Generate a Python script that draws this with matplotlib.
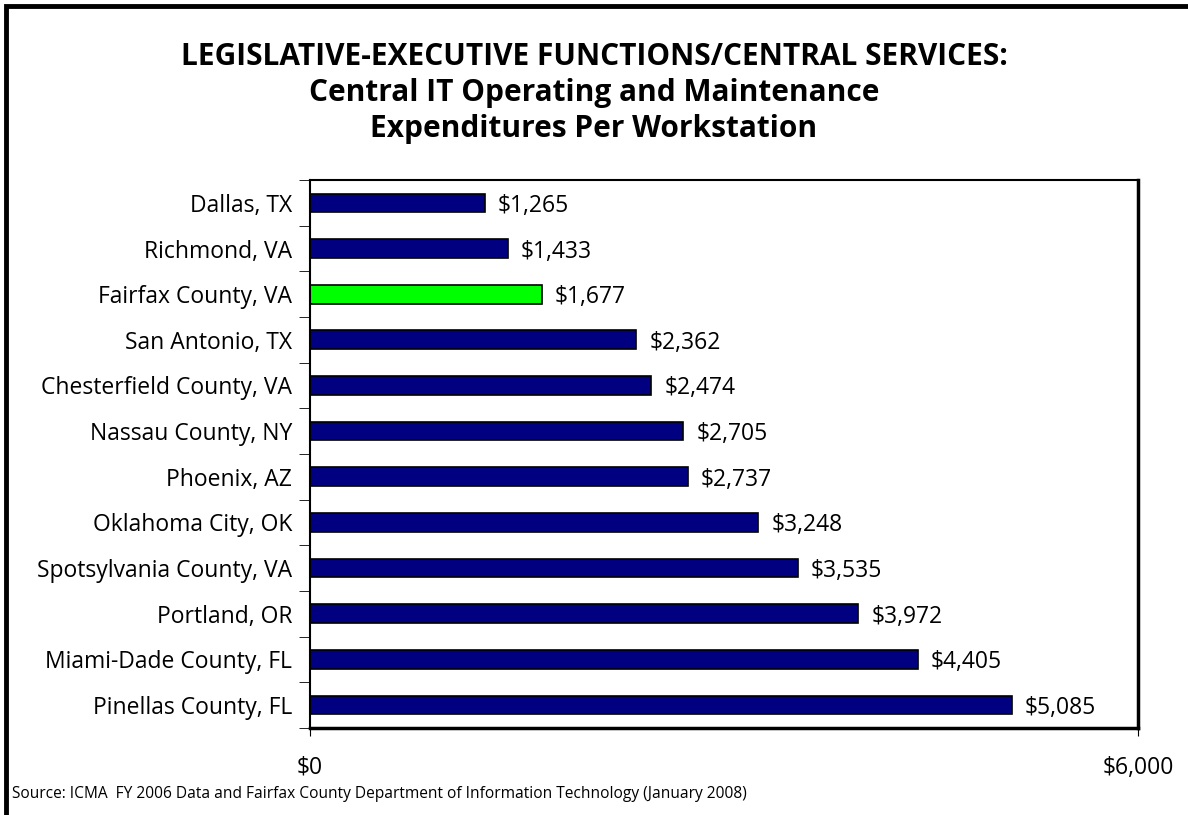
import matplotlib.pyplot as plt
import numpy as np
from matplotlib.patches import Rectangle

cities = ["Dallas, TX", "Richmond, VA", "Fairfax County, VA", "San Antonio, TX",
          "Chesterfield County, VA", "Nassau County, NY", "Phoenix, AZ",
          "Oklahoma City, OK", "Spotsylvania County, VA", "Portland, OR",
          "Miami-Dade County, FL", "Pinellas County, FL"]
costs = [1265, 1433, 1677, 2362, 2474, 2705, 2737, 3248, 3535, 3972, 4405, 5085]
highlight = "Fairfax County, VA"

plt.rcParams['font.family'] = ['Open Sans', 'DejaVu Sans']

fig = plt.figure(figsize=(11.88, 8.15), dpi=100)
ax = fig.add_axes([0.261, 0.107, 0.697, 0.672])

y = np.arange(len(cities))
colors = ['#00FF00' if c == highlight else '#000080' for c in cities]
ax.barh(y, costs, height=0.41, color=colors, edgecolor='black', linewidth=1.2)

for yi, v in zip(y, costs):
    ax.text(v + 95, yi, "${:,}".format(v), va='center_baseline', ha='left', fontsize=16.5)

ax.set_xlim(0, 6000)
ax.set_ylim(len(cities) - 0.5, -0.5)
ax.set_xticks([0, 6000])
ax.set_xticklabels(["$0", "$6,000"], fontsize=16.5)
ax.tick_params(axis='x', length=6, pad=14, direction='out')
ax.set_yticks(y)
ax.set_yticklabels(cities, fontsize=16.5, va='center_baseline')
ax.tick_params(axis='y', which='major', length=0, pad=13)
ax.set_yticks(np.arange(-0.5, len(cities)), minor=True)
ax.tick_params(axis='y', which='minor', length=8, direction='out')
for s in ax.spines.values():
    s.set_linewidth(1.5)
ax.spines['right'].set_linewidth(2.5)
ax.spines['bottom'].set_linewidth(2.5)

fig.text(0.5, 0.949, "LEGISLATIVE-EXECUTIVE FUNCTIONS/CENTRAL SERVICES:\n"
         "Central IT Operating and Maintenance\nExpenditures Per Workstation",
         ha='center', va='top', fontsize=21.5, fontweight='bold', linespacing=1.28)
fig.text(0.01, 0.026, "Source: ICMA  FY 2006 Data and Fairfax County Department of "
         "Information Technology (January 2008)", fontsize=11.2, ha='left', va='center')

fig.patches.append(Rectangle((6 / 1188, -0.05), 1.1, 1.05 - 6 / 815 + 0.0,
                             transform=fig.transFigure, fill=False,
                             edgecolor='black', linewidth=3.5))

fig.savefig("out.png", dpi=100)
